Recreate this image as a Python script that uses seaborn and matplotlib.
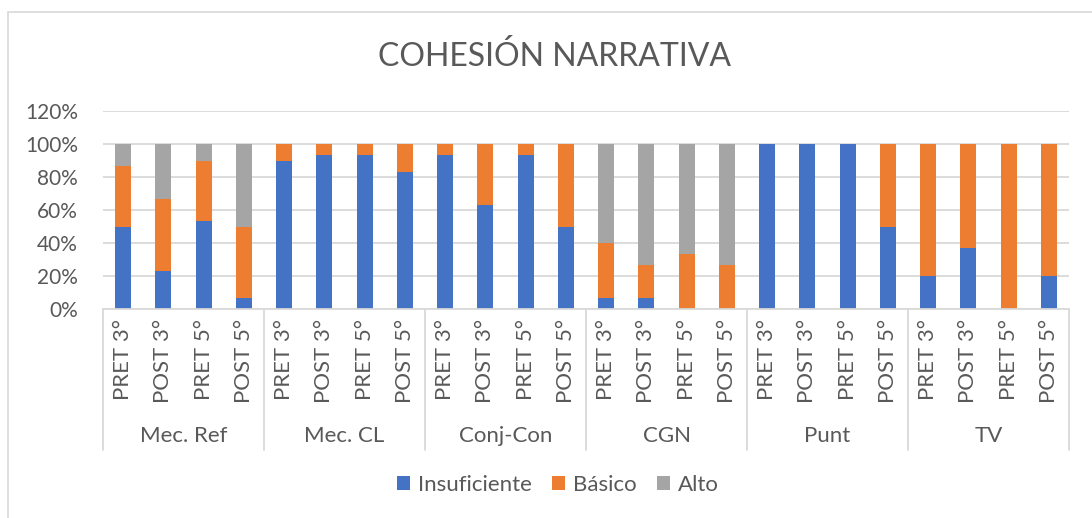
import matplotlib
matplotlib.use("Agg")
import matplotlib.pyplot as plt
from matplotlib.patches import Rectangle, Patch
import seaborn as sns
import pandas as pd

# ---- data ----
groups = ["Mec. Ref", "Mec. CL", "Conj-Con", "CGN", "Punt", "TV"]
moments = ["PRET 3°", "POST 3°", "PRET 5°", "POST 5°"]
levels = ["Insuficiente", "Básico", "Alto"]

insuficiente = [50.0, 23.3, 53.3, 6.7,
                90.0, 93.3, 93.3, 83.3,
                93.3, 63.3, 93.3, 50.0,
                6.7, 6.7, 0.0, 0.0,
                100.0, 100.0, 100.0, 50.0,
                20.0, 36.7, 0.0, 20.0]
basico = [36.7, 43.3, 36.7, 43.3,
          10.0, 6.7, 6.7, 16.7,
          6.7, 36.7, 6.7, 50.0,
          33.3, 20.0, 33.3, 26.7,
          0.0, 0.0, 0.0, 50.0,
          80.0, 63.3, 100.0, 80.0]
alto = [13.3, 33.3, 10.0, 50.0,
        0.0, 0.0, 0.0, 0.0,
        0.0, 0.0, 0.0, 0.0,
        60.0, 73.3, 66.7, 73.3,
        0.0, 0.0, 0.0, 0.0,
        0.0, 0.0, 0.0, 0.0]

colors = {"Insuficiente": "#4472C4", "Básico": "#ED7D31", "Alto": "#A5A5A5"}
text_color = "#595959"
grid_color = "#D9D9D9"

# ---- build table ----
keys = [f"{g}|{m}" for g in groups for m in moments]
sub_labels = [m for g in groups for m in moments]
df = pd.DataFrame({
    "key": keys,
    "Insuficiente": insuficiente,
    "Básico": basico,
    "Alto": alto,
})
df["cum_ins"] = df["Insuficiente"]
df["cum_bas"] = df["Insuficiente"] + df["Básico"]
df["cum_alt"] = df["cum_bas"] + df["Alto"]

sns.set_style("white")
plt.rcParams["font.family"] = ["Lato", "DejaVu Sans"]

W, H = 1092, 518
fig = plt.figure(figsize=(W / 100, H / 100), dpi=100)
ax_left, ax_right, ax_top, ax_bot = 103, 1069, 111, 309
ax = fig.add_axes([ax_left / W, 1 - ax_bot / H, (ax_right - ax_left) / W, (ax_bot - ax_top) / H])

for col, lvl in [("cum_alt", "Alto"), ("cum_bas", "Básico"), ("cum_ins", "Insuficiente")]:
    sns.barplot(data=df, x="key", y=col, order=keys, color=colors[lvl],
                width=0.4, errorbar=None, linewidth=0, saturation=1, ax=ax)

ax.set_xlim(-0.5, len(keys) - 0.5)
ax.set_ylim(0, 120)
yt = [0, 20, 40, 60, 80, 100, 120]
ax.set_yticks(yt)
ax.set_yticklabels([f"{v}%" for v in yt], color=text_color, fontsize=15)
ax.set_xticks(range(len(keys)))
ax.set_xticklabels(sub_labels, rotation=90, color=text_color, fontsize=16)
ax.tick_params(axis="x", length=0, pad=7)
ax.tick_params(axis="y", length=0, pad=18)
ax.set_xlabel("")
ax.set_ylabel("")
ax.yaxis.grid(True, color=grid_color, linewidth=1.3)
ax.set_axisbelow(True)
for s in ["left", "top", "right"]:
    ax.spines[s].set_visible(False)
ax.spines["bottom"].set_color(grid_color)
ax.spines["bottom"].set_linewidth(1.3)

# group separators and labels
sep_bottom = (ax_bot - 450) / (ax_bot - ax_top)
for i in range(len(groups) + 1):
    x = i * 4 - 0.5
    ax.plot([x, x], [0, sep_bottom], transform=ax.get_xaxis_transform(),
            color=grid_color, linewidth=1.3, clip_on=False)
lab_y = (ax_bot - 436) / (ax_bot - ax_top)
for i, g in enumerate(groups):
    ax.text(i * 4 + 1.5, lab_y, g, transform=ax.get_xaxis_transform(),
            ha="center", va="center", color=text_color, fontsize=16)

# title
fig.text(555 / W, 1 - 57 / H, "COHESIÓN NARRATIVA", ha="center", va="center",
         color=text_color, fontsize=23)

# legend
handles = [Patch(facecolor=colors[l], edgecolor="none") for l in levels]
fig.legend(handles, levels, loc="center", bbox_to_anchor=(558 / W, 1 - 485 / H),
           ncol=3, frameon=False, fontsize=16, handlelength=0.6, handleheight=0.6,
           handletextpad=0.35, columnspacing=0.9, labelcolor=text_color)

# outer border
fig.patches.append(Rectangle((8 / W, -0.1), 1.2, 1 - 12 / H + 0.1, transform=fig.transFigure,
                             fill=False, edgecolor=grid_color, linewidth=1.2))

fig.savefig("out.png", dpi=100)
